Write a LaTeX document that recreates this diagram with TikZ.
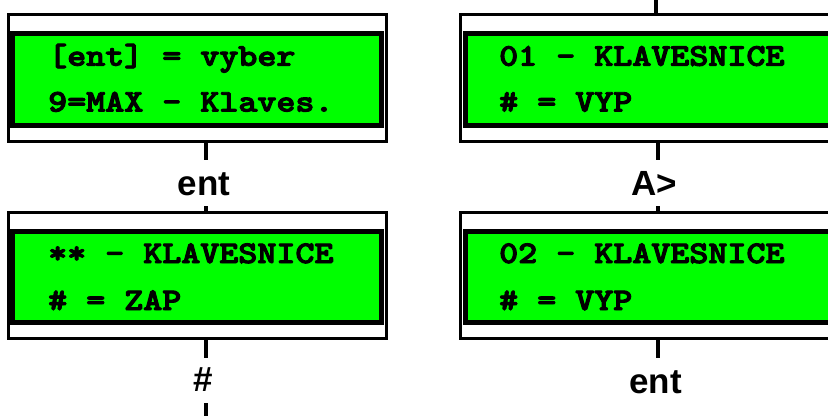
\documentclass[tikz,border=0pt]{standalone}
\usepackage{fontspec}
\newfontfamily\labelfont{Liberation Sans}
\newfontfamily\lcdfont{lmmonolt10-bold}[Extension=.otf, FakeBold=3]
\usetikzlibrary{calc}
\definecolor{lcdgreen}{HTML}{00FF00}
\newcommand{\lcdstr}[1]{\scalebox{1.15}[1]{#1}}
\begin{document}
\begin{tikzpicture}[x=1pt,y=-1pt,
  frame/.style={draw=black, line width=3pt, fill=white, minimum width=378pt, minimum height=126.3pt, inner sep=0pt, outer sep=0pt},
  lcd/.style={draw=black, line width=5pt, fill=lcdgreen, minimum width=369pt, minimum height=91.7pt, inner sep=0pt},
  lcdtext/.style={anchor=base west, inner sep=0pt, font=\lcdfont\fontsize{31.5}{31.5}\selectfont},
  keylbl/.style={anchor=base, inner sep=0pt, font=\labelfont\bfseries\fontsize{35}{35}\selectfont},
  conn/.style={draw=black, line width=3.5pt}]
\useasboundingbox (0,0) rectangle (828,416);
\clip (0,0) rectangle (828,416);

% column positions of connectors
\coordinate (cL) at (206,0);
\coordinate (cR) at (658,0);
\coordinate (topR) at (656,0);
\coordinate (botL) at (206,416);

% top left display
\node[frame] (f1) at (197,77.85) {};
\node[lcd] (g1) at (197,79.35) {};
\node[lcdtext] (t1a) at (48,65.7) {\lcdstr{[ent] = vyber}};
\node[lcdtext] (t1b) at (48,111.5) {\lcdstr{9=MAX - Klaves.}};

% bottom left display
\node[frame] (f2) at (197,275.35) {};
\node[lcd] (g2) at (197,276.85) {};
\node[lcdtext] (t2a) at (48,263) {\lcdstr{** - KLAVESNICE}};
\node[lcdtext] (t2b) at (48,310) {\lcdstr{\# = ZAP}};

% top right display
\node[frame] (f3) at (649.5,77.85) {};
\node[lcd] (g3) at (649.5,79.35) {};
\node[lcdtext] (t3a) at (499,65.7) {\lcdstr{01 - KLAVESNICE}};
\node[lcdtext] (t3b) at (499,111.5) {\lcdstr{\# = VYP}};

% bottom right display
\node[frame] (f4) at (649.5,275.35) {};
\node[lcd] (g4) at (649.5,276.85) {};
\node[lcdtext] (t4a) at (499,263) {\lcdstr{02 - KLAVESNICE}};
\node[lcdtext] (t4b) at (499,310) {\lcdstr{\# = VYP}};

% key labels
\node[keylbl, text height=35pt, text depth=11pt] (k1) at (204,195) {ent};
\node[keylbl, text height=35pt, text depth=11pt] (k2) at (654,195) {A>};
\node[keylbl, text height=33pt, text depth=12pt] (k3) at (203,391) {\#};
\node[keylbl, text height=35pt, text depth=11pt] (k4) at (655.7,393) {ent};

% connectors
\draw[conn] (f1.south -| cL) -- (k1.north -| cL);
\draw[conn] (k1.south -| cL) -- (f2.north -| cL);
\draw[conn] (f2.south -| cL) -- (k3.north -| cL);
\draw[conn] (k3.south -| cL) -- (botL);

\draw[conn] (topR) -- (f3.north -| topR);
\draw[conn] (f3.south -| cR) -- (k2.north -| cR);
\draw[conn] (k2.south -| cR) -- (f4.north -| cR);
\draw[conn] (f4.south -| cR) -- (k4.north -| cR);
\end{tikzpicture}
\end{document}
